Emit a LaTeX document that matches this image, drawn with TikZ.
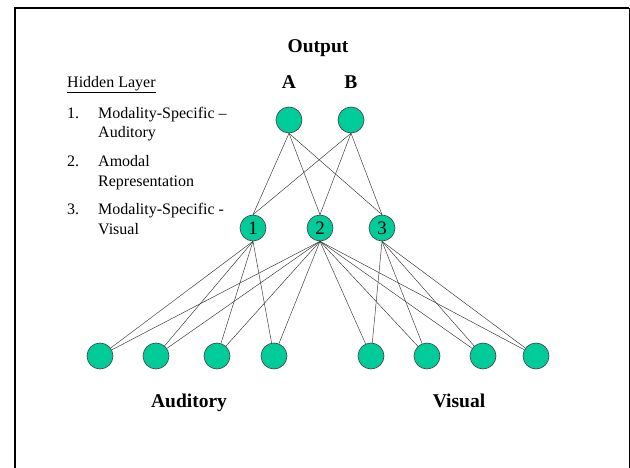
\documentclass[tikz,border=0pt]{standalone}
\usepackage{fontspec}
\setmainfont{Liberation Serif}
\definecolor{nodegreen}{HTML}{00CC99}
\begin{document}
\begin{tikzpicture}[x=1pt,y=-1pt,
  unit/.style={circle,draw=black!75,line width=0.6pt,fill=nodegreen,minimum size=26pt,inner sep=0pt,font=\fontsize{19}{19}\selectfont},
  link/.style={draw=black!80,line width=0.45pt},
  big/.style={font=\fontsize{19.5}{20}\selectfont\bfseries,inner sep=0pt,anchor=base},
  small/.style={font=\fontsize{16}{19}\selectfont,inner sep=0pt,anchor=base west}]
\useasboundingbox (0,0) rectangle (630,468);
\fill[white] (0,0) rectangle (630,468);
% frame
\draw[line width=2pt] (15,470) -- (15,8.5) -- (629,8.5);
\draw[line width=1pt] (629,8.5) -- (629,470);
% title labels
\node[big] (out) at (318,53) {Output};
\node[big] (la) at (289,89) {A};
\node[big] (lb) at (351,89) {B};
\node[big] (aud) at (189,407) {Auditory};
\node[big] (vis) at (459,407) {Visual};
% legend
\node[small] (hl) at (67,88) {Hidden Layer};
\draw[line width=0.6pt] (67,92) coordinate (u1) -- (hl.east |- u1) coordinate (u2);
\node[small] (n1) at (67,119) {1.};
\node[small] (t1a) at (98,119) {Modality-Specific --};
\node[small] (t1b) at (98,138) {Auditory};
\node[small] (n2) at (67,167) {2.};
\node[small] (t2a) at (98,167) {Amodal};
\node[small] (t2b) at (98,187) {Representation};
\node[small] (n3) at (67,215) {3.};
\node[small] (t3a) at (98,215) {Modality-Specific -};
\node[small] (t3b) at (98,235) {Visual};
% nodes
\node[unit] (A) at (289,120) {};
\node[unit] (B) at (351,120) {};
\node[unit] (h1) at (253,228) {1};
\node[unit] (h2) at (320,228) {2};
\node[unit] (h3) at (382,228) {3};
\foreach \i/\x in {1/100,2/156,3/217,4/274,5/371,6/427,7/483,8/536}
  \node[unit] (b\i) at (\x,356) {};
% connections
\foreach \o in {A,B}
  \foreach \h in {h1,h2,h3}
    \draw[link] (\o.south) -- (\h.north);
\foreach \i in {1,2,3,4}
  \draw[link] (h1.south) -- (b\i);
\foreach \i in {1,...,8}
  \draw[link] (h2.south) -- (b\i);
\foreach \i in {5,6,7,8}
  \draw[link] (h3.south) -- (b\i);
\end{tikzpicture}
\end{document}
